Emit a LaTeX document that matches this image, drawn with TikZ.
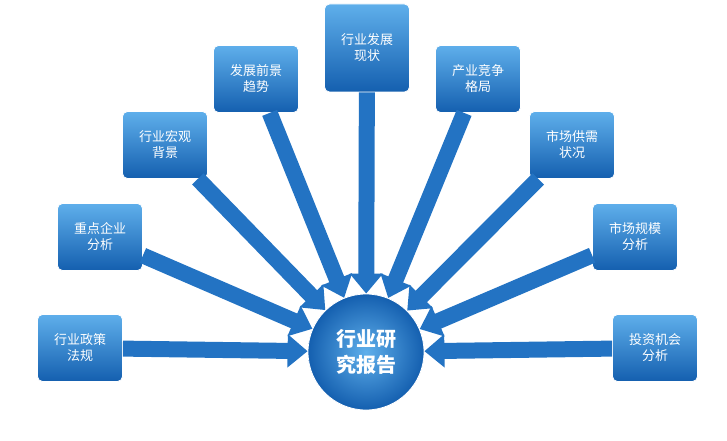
\documentclass[tikz,border=0pt]{standalone}
\usepackage{fontspec}
\setmainfont{Noto Sans CJK SC}
\usetikzlibrary{arrows.meta}
\definecolor{skyTop}{RGB}{95,175,235}
\definecolor{skyLow}{RGB}{20,95,175}
\definecolor{arrowBlue}{RGB}{35,115,195}
\tikzset{
  topic/.style={draw=white, line width=0.8pt, rounded corners=5pt, top color=skyTop,
    bottom color=skyLow, minimum width=85pt, minimum height=67pt, align=center,
    text=white, font=\fontsize{13pt}{16pt}\selectfont},
  hub/.style={circle, draw=white, line width=0.8pt, inner color=skyTop, outer color=skyLow,
    minimum size=116pt, align=center, text=white, font=\bfseries\fontsize{20pt}{26pt}\selectfont},
  arr/.style={-{Triangle[width=32pt,length=20pt]}, line width=16pt, draw=arrowBlue}
}
\begin{document}
\begin{tikzpicture}[x=1pt,y=-1pt]
	% Frame
	\useasboundingbox (0,0) rectangle (727,441);

	\node[hub] (report) at (366,352) {行业研\\究报告};

	\node[topic] (policy) at (80,348) {行业政策\\法规};
	\node[topic] (firms) at (100,237) {重点企业\\分析};
	\node[topic] (macro) at (165,145) {行业宏观\\背景};
	\node[topic] (trend) at (256,79) {发展前景\\趋势};
	\node[topic, minimum height=88pt] (status) at (367,48) {行业发展\\现状};
	\node[topic] (compete) at (478,79) {产业竞争\\格局};
	\node[topic] (supply) at (572,145) {市场供需\\状况};
	\node[topic] (scale) at (635,237) {市场规模\\分析};
	\node[topic] (invest) at (655,348) {投资机会\\分析};

	% Arrows into the hub
	\foreach \src in {policy, firms, macro, trend, status, compete, supply, scale, invest}
		\draw[arr] (\src) -- (report);
\end{tikzpicture}
\end{document}
